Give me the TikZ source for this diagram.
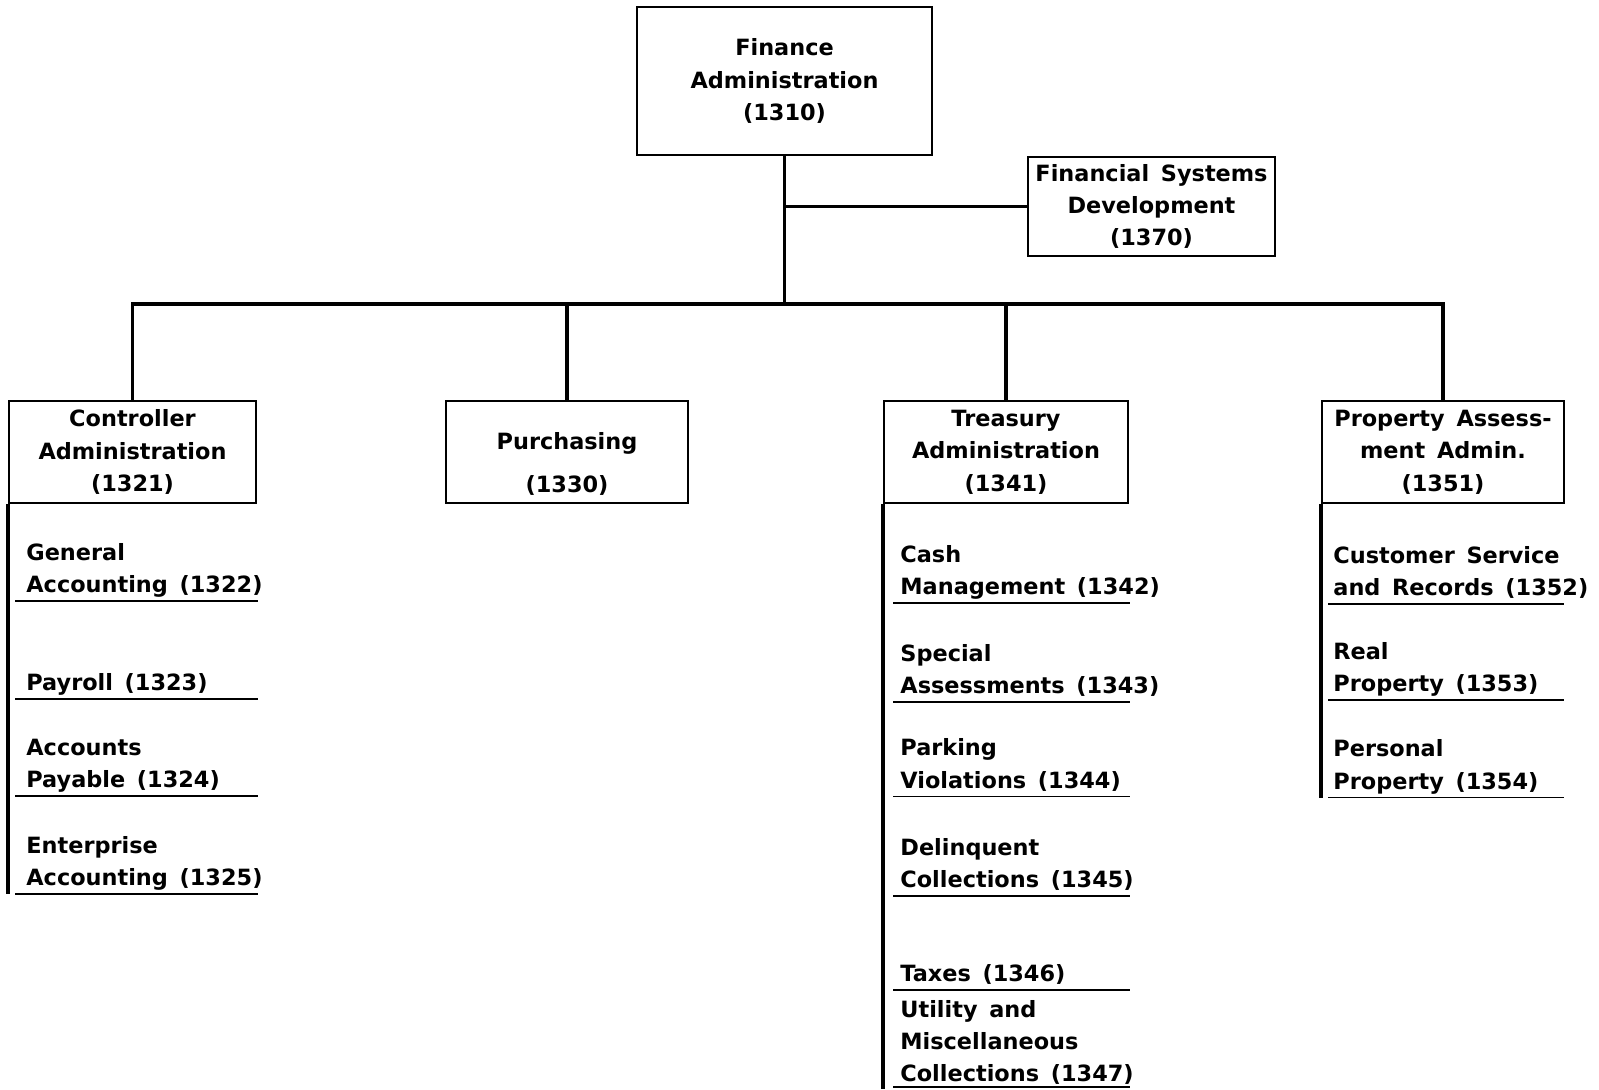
\documentclass[tikz,border=0pt]{standalone}
\usepackage{fontspec}
\setmainfont{DejaVu Sans}[WordSpace=1.5]
\begin{document}
\begin{tikzpicture}[x=0.5pt,y=-0.5pt,
  txt/.style={font=\bfseries\fontsize{11.2}{16.2}\selectfont},
  box/.style={draw, line width=0.9pt, txt, align=center, inner sep=0pt},
  conn/.style={line width=1.8pt},
  rail/.style={line width=1.8pt},
  uline/.style={line width=0.7pt},
  item/.style={txt, align=left, anchor=south west, inner xsep=0pt, inner ysep=1.6pt, text depth=2.4pt}]
\useasboundingbox (0,0) rectangle (1599,1089);

% boxes
\node[box, minimum width=147.5pt, minimum height=74pt] (fin) at (784.5,81) {Finance\\Administration\\(1310)};
\node[box, minimum width=123.5pt, minimum height=49.5pt] (fsd) at (1151.5,206.5) {Financial Systems\\Development\\(1370)};
\node[box, minimum width=123.5pt, minimum height=51pt] (ctrl) at (132.5,452) {Controller\\Administration\\(1321)};
\node[box, minimum width=121pt, minimum height=51pt] (purch) at (567,452) {};
\node[txt, align=center] (purchT) at (567,464) {Purchasing\\[5.5pt](1330)};
\node[box, minimum width=122pt, minimum height=51pt] (treas) at (1006,452) {Treasury\\Administration\\(1341)};
\node[box, minimum width=121pt, minimum height=51pt] (prop) at (1443,452) {Property Assess-\\ment Admin.\\(1351)};

% connectors
\coordinate (J) at (785,304);
\draw[conn] (fin.south) -- (fin.south |- J);
\draw[conn] (fsd.west) -- (fsd.west -| fin.south);
\draw[conn] (ctrl.north) -- (ctrl.north |- J) -- (prop.north |- J) -- (prop.north);
\draw[conn] (purch.north) -- (purch.north |- J);
\draw[conn] (treas.north) -- (treas.north |- J);

% controller items
\node[item] (c1) at (26,601) {General\\Accounting (1322)};
\node[item] (c2) at (26,699) {Payroll (1323)};
\node[item] (c3) at (26,796) {Accounts\\Payable (1324)};
\node[item] (c4) at (26,894) {Enterprise\\Accounting (1325)};
\foreach \y in {601,699,796,894} \draw[uline] (15,\y) -- (258,\y);
\draw[rail] (ctrl.south west) -- (ctrl.south west |- c4.south);

% treasury items
\node[item] (t1) at (900,603) {Cash\\Management (1342)};
\node[item] (t2) at (900,702) {Special\\Assessments (1343)};
\node[item] (t3) at (900,796.5) {Parking\\Violations (1344)};
\node[item] (t4) at (900,896) {Delinquent\\Collections (1345)};
\node[item] (t5) at (900,990) {Taxes (1346)};
\node[item, inner ysep=1pt] (t6) at (900,1089) {Utility and\\Miscellaneous\\Collections (1347)};
\foreach \y in {603,702,796.5,896,990} \draw[uline] (893,\y) -- (1130,\y);
\draw[uline] (893,1087) -- (1130,1087);
\draw[rail] (treas.south west) -- (treas.south west |- t6.south);

% property items
\node[item] (p1) at (1333,604) {Customer Service\\and Records (1352)};
\node[item] (p2) at (1333,700) {Real\\Property (1353)};
\node[item] (p3) at (1333,797.5) {Personal\\Property (1354)};
\foreach \y in {604,700,797.5} \draw[uline] (1328,\y) -- (1564,\y);
\draw[rail] (prop.south west) -- (prop.south west |- p3.south);
\end{tikzpicture}
\end{document}
